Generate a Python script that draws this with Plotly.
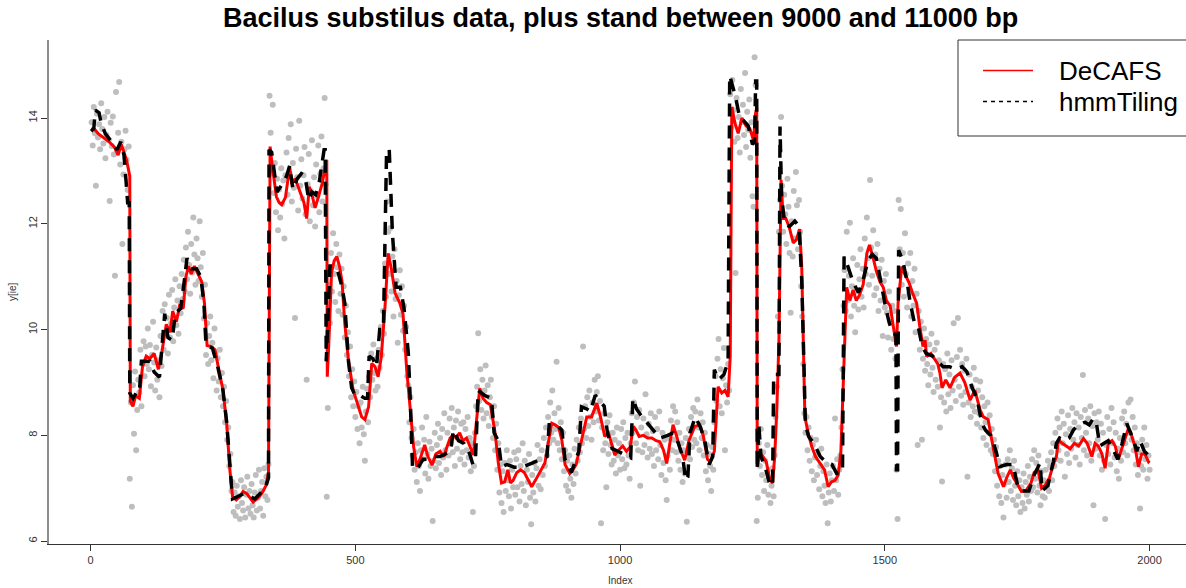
import plotly.graph_objects as go

# ---------------- data ----------------
title_text = "Bacilus substilus data, plus stand between 9000 and 11000 bp"
x_ticks = [0, 500, 1000, 1500, 2000]
y_ticks = [6, 8, 10, 12, 14]

# DeCAFS estimate (index, value)
decafs_idx = [1, 8, 15, 25, 35, 45, 52, 58, 63, 68, 72, 74, 75, 80, 85, 92, 98, 105, 112, 120,
              128, 135, 143, 150, 155, 162, 168, 175, 180, 185, 190, 196, 203, 210, 215, 220, 228, 235, 241, 250,
              257, 263, 268, 275, 282, 288, 295, 301, 307, 314, 320, 326, 331, 336, 339, 343, 351, 356, 361, 368,
              376, 380, 386, 392, 398, 403, 408, 413, 418, 424, 430, 437, 446, 447, 451, 455, 460, 465, 470, 475,
              480, 487, 496, 503, 512, 518, 525, 531, 537, 543, 549, 556, 562, 568, 575, 584, 590, 597, 603, 610,
              616, 622, 631, 637, 645, 652, 660, 667, 673, 679, 685, 690, 697, 703, 710, 716, 723, 728, 735, 741,
              748, 755, 760, 764, 770, 776, 782, 788, 793, 798, 805, 812, 819, 826, 833, 840, 848, 858, 865, 871,
              877, 884, 890, 896, 905, 911, 917, 927, 937, 946, 956, 963, 971, 978, 984, 990, 998, 1005, 1012, 1019,
              1025, 1030, 1036, 1044, 1052, 1060, 1068, 1075, 1082, 1088, 1094, 1100, 1107, 1113, 1122, 1130, 1141, 1150, 1157, 1165,
              1170, 1178, 1185, 1192, 1198, 1204, 1208, 1211, 1217, 1223, 1230, 1238, 1245, 1252, 1256, 1258, 1259, 1264, 1270, 1276,
              1283, 1288, 1292, 1296, 1300, 1304, 1308, 1313, 1319, 1327, 1333, 1339, 1343, 1346, 1349, 1355, 1362, 1369, 1377, 1386,
              1393, 1399, 1406, 1412, 1417, 1421, 1425, 1428, 1434, 1440, 1446, 1452, 1459, 1466, 1471, 1478, 1484, 1491, 1497, 1503,
              1510, 1516, 1522, 1525, 1532, 1538, 1546, 1552, 1560, 1566, 1572, 1576, 1579, 1587, 1594, 1600, 1604, 1608, 1615, 1623,
              1632, 1642, 1651, 1661, 1670, 1680, 1686, 1695, 1702, 1708, 1714, 1724, 1730, 1737, 1743, 1749, 1758, 1767, 1776, 1782,
              1789, 1796, 1802, 1811, 1818, 1824, 1828, 1835, 1842, 1850, 1858, 1866, 1875, 1882, 1891, 1897, 1903, 1910, 1916, 1922,
              1929, 1935, 1941, 1947, 1954, 1960, 1966, 1972, 1979, 1985, 1991, 1998, 2000]
decafs_val = [13.80, 13.78, 13.70, 13.62, 13.55, 13.45, 13.30, 13.50, 13.35, 13.20, 13.00, 12.90, 8.65, 8.55, 8.75, 8.70, 9.30, 9.50, 9.45, 9.55,
              9.25, 9.60, 10.10, 9.95, 10.35, 10.15, 10.45, 10.40, 11.00, 11.20, 11.05, 11.20, 11.05, 10.90, 10.50, 9.70, 9.68, 9.62, 9.30, 8.86,
              8.23, 7.35, 6.85, 6.78, 6.85, 6.94, 6.90, 6.82, 6.74, 6.80, 6.86, 6.95, 7.05, 7.30, 13.46, 13.10, 12.51, 12.40, 12.36, 12.50,
              13.08, 12.75, 12.85, 12.70, 12.55, 12.40, 12.10, 12.70, 12.55, 12.30, 12.50, 12.75, 13.21, 9.11, 10.00, 11.07, 11.30, 11.38, 11.20, 10.90,
              10.12, 9.42, 8.85, 8.61, 8.35, 8.30, 8.54, 9.36, 9.30, 9.11, 9.49, 10.43, 11.44, 11.15, 10.69, 10.50, 10.30, 9.24, 8.54, 7.79,
              7.41, 7.55, 7.82, 7.60, 7.44, 7.65, 7.70, 7.60, 7.78, 7.95, 8.01, 7.95, 8.05, 7.90, 7.95, 7.80, 7.63, 8.20, 8.89, 8.70,
              8.62, 8.58, 8.30, 8.04, 7.48, 7.10, 7.12, 7.35, 7.10, 7.15, 7.30, 7.35, 7.30, 7.15, 7.03, 7.15, 7.30, 7.48, 7.90, 8.23,
              8.20, 8.15, 7.91, 7.45, 7.28, 7.35, 7.45, 7.91, 8.35, 8.35, 8.61, 8.35, 7.98, 8.05, 7.85, 7.63, 7.73, 7.80, 7.70, 7.78,
              8.17, 8.10, 7.98, 8.00, 7.95, 7.95, 7.90, 7.88, 7.72, 7.47, 7.85, 8.20, 7.98, 7.75, 7.53, 7.90, 8.17, 8.20, 8.00, 7.55,
              7.50, 7.70, 8.92, 8.80, 8.85, 8.73, 9.50, 14.21, 13.90, 13.71, 14.00, 13.85, 13.80, 13.58, 14.10, 14.20, 7.41, 7.66, 7.60, 7.50,
              7.16, 7.10, 7.60, 8.50, 9.80, 12.83, 12.10, 12.10, 11.95, 11.64, 11.70, 11.90, 11.20, 9.80, 8.35, 8.05, 7.79, 7.60, 7.48, 7.35,
              7.03, 7.12, 7.15, 7.25, 7.70, 9.00, 9.99, 10.80, 10.55, 10.75, 10.55, 10.65, 10.85, 11.44, 11.60, 11.35, 11.10, 10.90, 10.80, 10.55,
              10.45, 10.06, 9.68, 10.50, 11.19, 11.05, 10.88, 10.70, 10.50, 10.06, 9.68, 9.80, 9.49, 9.55, 9.45, 9.35, 9.18, 8.90, 9.05, 8.90,
              9.10, 9.18, 9.00, 8.67, 8.85, 8.48, 8.35, 8.30, 7.91, 7.60, 7.28, 7.03, 7.20, 7.35, 7.20, 7.10, 6.94, 6.96, 7.10, 7.30,
              7.35, 7.00, 7.05, 7.20, 7.45, 7.60, 7.91, 7.85, 7.80, 7.75, 7.85, 7.80, 7.94, 7.85, 7.60, 7.85, 7.80, 7.65, 7.38, 7.85,
              7.90, 7.80, 7.55, 7.75, 7.95, 8.13, 8.00, 7.80, 7.41, 7.65, 7.65, 7.50, 7.52]

# hmmTiling estimate (index, value)
hmm_idx = [1, 6, 9, 16, 20, 28, 40, 50, 57, 63, 67, 70, 73, 74, 80, 86, 92, 96, 112, 120,
           130, 140, 146, 154, 160, 170, 178, 182, 190, 200, 208, 214, 218, 230, 240, 250, 257, 263, 268, 290,
           300, 310, 320, 330, 336, 337, 342, 347, 352, 362, 370, 376, 382, 390, 398, 405, 412, 418, 425, 432,
           441, 443, 445, 449, 452, 460, 467, 475, 480, 487, 493, 500, 510, 518, 523, 526, 533, 540, 546, 553,
           556, 559, 564, 567, 570, 577, 585, 592, 600, 604, 608, 616, 628, 640, 648, 660, 670, 680, 685, 695,
           705, 716, 722, 727, 732, 745, 757, 762, 770, 776, 786, 800, 815, 830, 835, 850, 862, 866, 880, 890,
           896, 908, 916, 922, 927, 937, 944, 953, 962, 970, 976, 985, 996, 1010, 1020, 1024, 1031, 1038, 1050, 1060,
           1075, 1090, 1100, 1110, 1118, 1124, 1128, 1132, 1142, 1152, 1160, 1168, 1175, 1178, 1186, 1196, 1204, 1207, 1212, 1218,
           1226, 1233, 1242, 1250, 1254, 1256, 1258, 1259, 1262, 1266, 1274, 1282, 1288, 1290, 1300, 1302, 1305, 1311, 1320, 1330,
           1338, 1343, 1346, 1350, 1356, 1366, 1378, 1390, 1400, 1409, 1420, 1423, 1430, 1440, 1450, 1458, 1468, 1476, 1484, 1492,
           1500, 1507, 1514, 1521, 1522, 1524, 1526, 1534, 1542, 1548, 1556, 1563, 1570, 1578, 1590, 1600, 1610, 1622, 1634, 1646,
           1655, 1665, 1674, 1683, 1690, 1700, 1710, 1717, 1730, 1742, 1752, 1760, 1772, 1782, 1793, 1797, 1808, 1818, 1824, 1830,
           1840, 1848, 1856, 1864, 1872, 1878, 1886, 1894, 1900, 1906, 1914, 1922, 1930, 1940, 1948, 1957, 1964, 1970, 1976, 1982,
           1990, 1998, 2000]
hmm_val = [13.75, 13.80, 14.15, 14.10, 13.90, 13.70, 13.55, 13.40, 13.55, 13.30, 12.80, 12.40, 12.40, 8.80, 8.70, 8.80, 8.80, 9.40, 9.40, 9.20,
           9.10, 10.30, 9.85, 9.80, 10.30, 10.40, 11.00, 11.35, 11.15, 11.15, 11.00, 10.50, 9.70, 9.65, 9.30, 8.85, 8.25, 7.40, 6.80, 6.90,
           6.85, 6.80, 6.90, 7.00, 7.20, 13.40, 13.35, 12.90, 12.60, 12.75, 12.90, 13.10, 12.65, 12.85, 12.95, 12.90, 12.45, 12.60, 12.55, 12.80,
           13.40, 13.40, 9.40, 10.40, 11.20, 11.20, 11.10, 10.80, 10.50, 9.40, 8.90, 8.75, 8.75, 8.70, 8.70, 9.50, 9.45, 9.30, 10.00, 10.00,
           11.40, 13.40, 13.40, 12.50, 11.82, 10.80, 10.80, 10.40, 9.56, 8.60, 7.40, 7.35, 7.55, 7.55, 7.60, 7.60, 7.65, 7.70, 8.10, 7.90,
           7.85, 7.65, 7.45, 7.60, 8.85, 8.75, 8.70, 8.05, 7.90, 7.41, 7.45, 7.40, 7.40, 7.45, 7.48, 7.55, 7.60, 8.20, 8.20, 8.10,
           7.55, 7.30, 7.55, 7.70, 8.54, 8.50, 8.45, 8.76, 8.65, 8.55, 8.05, 7.75, 7.70, 7.62, 7.58, 8.70, 8.50, 8.40, 8.25, 8.15,
           7.95, 8.00, 8.05, 7.85, 7.60, 7.15, 7.22, 8.05, 8.35, 8.15, 7.90, 7.45, 7.60, 9.24, 9.05, 9.15, 9.40, 14.80, 14.60, 14.40,
           14.00, 13.95, 13.85, 13.50, 13.55, 14.70, 14.70, 7.35, 8.20, 7.60, 7.40, 7.10, 7.04, 9.15, 9.15, 13.84, 12.50, 12.00, 11.95, 12.05,
           11.95, 10.94, 9.80, 8.20, 7.98, 7.85, 7.60, 7.48, 7.45, 7.28, 7.30, 11.38, 11.20, 10.90, 10.70, 10.90, 11.30, 11.42, 11.35, 10.90,
           10.50, 10.18, 9.94, 9.90, 7.35, 7.35, 11.50, 11.30, 10.90, 10.50, 10.12, 10.06, 9.70, 9.55, 9.50, 9.40, 9.30, 9.30, 9.25, 9.30,
           9.20, 8.90, 8.70, 8.23, 8.10, 8.00, 7.70, 7.41, 7.45, 7.45, 7.00, 6.95, 6.95, 7.25, 7.48, 6.95, 7.05, 7.50, 7.85, 7.95,
           7.90, 7.95, 8.10, 8.19, 8.22, 8.25, 8.20, 8.32, 8.20, 7.80, 7.85, 7.90, 7.75, 7.55, 7.85, 8.22, 8.05, 7.90, 7.70, 7.90,
           7.70, 7.60, 7.60]

# observed data y[ie] (every second index, blocks of 100 indices, first index of block given)
pts_0002 = [13.92, 13.48, 14.21, 13.71, 12.72, 14.08, 13.63, 13.88, 13.41, 14.28, 13.79, 13.52, 14.02, 13.24, 13.68, 14.12, 13.58, 12.43, 13.91, 13.47,
            14.03, 13.31, 11.02, 14.49, 13.37, 13.72, 14.68, 13.12, 13.55, 11.62, 12.93, 13.41, 13.76, 13.21, 12.64, 13.46, 7.18,
            8.62, 6.65, 8.95, 8.03, 9.21, 7.72, 8.48, 9.05, 8.81, 9.62, 8.55, 9.35, 9.78]
pts_0102 = [9.12, 9.68, 9.35, 10.02, 9.25, 9.71, 8.93, 9.52, 10.15, 9.38, 8.85, 9.66, 9.05, 9.42, 8.72, 9.88, 9.31, 10.35, 9.62, 10.48,
            9.95, 10.22, 9.55, 10.66, 9.85, 10.12, 10.75, 9.78, 10.42, 10.95, 10.08, 10.55, 9.92, 10.82, 10.31, 11.05, 10.58, 11.32, 10.72, 11.55,
            10.95, 11.85, 11.22, 10.68, 11.62, 11.08, 12.12, 11.42, 10.85, 11.72]
pts_0202 = [11.35, 10.92, 12.05, 11.18, 10.62, 11.45, 10.21, 10.85, 9.52, 10.12, 9.35, 9.88, 10.25, 9.42, 9.75, 9.08, 10.02, 9.55, 8.85, 9.46,
            9.02, 9.62, 8.72, 9.18, 8.55, 8.92, 8.25, 8.65, 7.92, 8.15, 7.42, 7.65, 6.95, 7.12, 6.55, 6.92, 6.48, 7.05, 6.65, 6.85,
            6.42, 7.15, 6.72, 6.58, 7.02, 6.45, 6.88, 7.22, 6.62, 6.95]
pts_0302 = [6.52, 7.08, 6.68, 6.45, 6.92, 7.25, 6.58, 6.82, 7.35, 6.62, 6.95, 7.12, 6.48, 7.38, 6.85, 7.22, 6.78, 7.45, 14.42, 13.72,
            12.95, 14.25, 12.58, 13.15, 12.22, 12.85, 11.88, 12.65, 12.12, 13.05, 12.38, 12.82, 11.72, 12.92, 13.35, 12.55, 13.62, 12.95, 13.88, 12.42,
            13.15, 12.68, 10.22, 13.42, 12.88, 12.25, 13.95, 12.72, 13.22, 12.48]
pts_0402 = [12.92, 13.45, 12.18, 9.05, 12.75, 13.32, 12.05, 12.62, 13.58, 12.35, 12.88, 11.95, 13.12, 12.52, 13.48, 12.22, 12.95, 13.65, 12.42, 13.05,
            14.38, 12.75, 6.84, 8.52, 10.85, 10.12, 11.45, 10.72, 11.82, 11.05, 10.52, 11.62, 11.18, 10.35, 11.42, 10.68, 11.15, 10.28, 10.82, 9.85,
            10.45, 9.52, 9.95, 9.12, 9.68, 8.72, 9.25, 8.55, 9.02, 8.35]
pts_0502 = [8.82, 8.12, 8.55, 7.85, 8.62, 8.15, 8.92, 8.02, 7.52, 8.45, 8.88, 8.25, 9.12, 8.72, 9.55, 9.05, 9.72, 9.18, 8.85, 9.45,
            8.92, 9.62, 9.28, 10.05, 9.52, 10.35, 9.92, 11.25, 10.62, 12.42, 11.85, 11.05, 11.92, 10.72, 11.38, 10.25, 11.52, 10.58, 10.92, 9.75,
            10.65, 11.12, 10.28, 10.82, 9.98, 10.45, 9.62, 10.05, 9.12, 8.95]
pts_0602 = [8.25, 8.72, 7.95, 7.62, 8.12, 7.35, 7.68, 7.12, 7.85, 7.42, 6.95, 7.72, 8.15, 7.55, 7.92, 7.28, 8.35, 7.65, 7.18, 7.88,
            7.42, 7.75, 6.38, 7.52, 8.05, 7.38, 7.82, 8.22, 7.48, 7.95, 7.25, 8.12, 7.58, 8.42, 7.72, 7.35, 8.05, 7.62, 8.32, 7.85,
            8.52, 7.68, 8.15, 7.42, 8.28, 7.75, 8.45, 7.92, 7.55, 8.22]
pts_0702 = [7.68, 8.25, 7.45, 8.12, 7.72, 8.35, 7.58, 7.95, 7.32, 7.85, 6.55, 7.42, 8.05, 8.55, 8.92, 9.93, 8.65, 9.25, 8.48, 9.05,
            8.32, 8.85, 9.32, 8.42, 8.95, 8.18, 8.72, 9.05, 8.35, 7.95, 8.55, 7.72, 8.22, 7.35, 7.85, 6.92, 7.45, 6.72, 7.32, 6.55,
            7.48, 6.95, 7.72, 7.15, 6.85, 7.52, 6.62, 7.35, 7.02, 7.68]
pts_0802 = [6.88, 7.55, 7.02, 7.72, 6.75, 7.42, 7.08, 7.85, 6.95, 7.52, 6.68, 7.35, 7.12, 7.65, 6.82, 6.32, 7.25, 6.92, 7.48, 6.75,
            7.38, 7.82, 7.05, 7.55, 6.98, 7.72, 7.25, 7.95, 7.42, 8.15, 7.62, 8.35, 7.85, 8.62, 8.05, 8.85, 7.92, 8.42, 8.12, 9.39,
            7.85, 8.52, 7.72, 8.25, 7.55, 8.05, 7.32, 7.72, 7.05, 7.52]
pts_0902 = [6.95, 7.62, 7.18, 6.82, 7.45, 7.08, 7.75, 7.28, 7.92, 7.52, 8.15, 7.68, 8.32, 7.85, 9.68, 8.12, 8.55, 7.95, 8.72, 8.18,
            8.85, 8.35, 7.92, 8.62, 8.25, 9.05, 8.45, 8.82, 9.12, 8.28, 8.65, 6.34, 8.15, 7.72, 8.42, 7.85, 7.02, 8.25, 7.65, 8.38,
            7.82, 7.45, 8.05, 7.52, 7.92, 7.28, 8.15, 7.62, 7.85, 7.35]
pts_1002 = [8.12, 7.55, 8.25, 7.38, 7.95, 7.45, 8.05, 7.62, 7.18, 7.85, 8.42, 8.05, 8.62, 9.02, 7.85, 8.35, 7.72, 8.48, 7.05, 8.15,
            7.68, 8.32, 7.82, 8.78, 8.02, 7.58, 8.22, 7.75, 8.42, 7.65, 8.08, 7.42, 8.35, 7.72, 8.12, 7.55, 8.45, 7.82, 7.25, 8.05,
            7.48, 7.92, 7.15, 6.78, 7.62, 7.95, 7.35, 8.28, 7.72, 8.55]
pts_1102 = [7.92, 8.45, 7.68, 8.25, 7.52, 8.05, 7.35, 7.85, 7.12, 7.72, 7.28, 7.95, 6.37, 7.65, 8.12, 7.55, 8.35, 7.78, 8.52, 7.92,
            8.45, 7.85, 8.68, 8.15, 7.72, 8.42, 7.95, 8.25, 7.62, 8.05, 7.32, 7.82, 7.15, 7.65, 7.42, 6.95, 7.78, 7.35, 8.25, 9.12,
            8.65, 9.45, 9.82, 8.55, 9.25, 8.42, 9.08, 9.65, 7.72, 8.95]
pts_1202 = [8.62, 9.35, 8.85, 14.45, 13.82, 14.72, 14.15, 13.55, 11.07, 14.38, 13.62, 14.02, 13.35, 14.55, 13.92, 14.25, 13.68, 14.85, 13.45, 14.12,
            13.78, 14.35, 13.25, 13.92, 12.52, 12.32, 15.15, 14.62, 6.38, 6.82, 7.85, 7.42, 8.12, 7.25, 7.68, 6.95, 7.52, 7.15, 7.82, 6.88,
            7.35, 6.72, 7.05, 7.38, 6.85, 7.62, 8.35, 8.92, 10.25, 11.85]
pts_1302 = [12.45, 14.02, 12.72, 11.85, 12.55, 12.18, 11.62, 12.85, 12.32, 11.45, 10.32, 12.05, 11.38, 12.62, 11.72, 12.98, 12.35, 11.52, 12.45, 11.85,
            10.82, 10.25, 9.35, 8.42, 8.05, 8.35, 7.72, 8.15, 7.52, 7.95, 7.32, 7.82, 7.15, 7.58, 7.92, 7.25, 7.65, 6.98, 7.42, 7.75,
            6.85, 7.32, 7.05, 6.72, 7.45, 6.34, 6.92, 7.28, 6.75, 7.15]
pts_1402 = [7.42, 6.95, 8.32, 7.15, 7.55, 6.88, 7.35, 7.62, 8.15, 9.25, 10.45, 11.12, 10.35, 11.85, 10.55, 11.02, 12.02, 10.25, 10.82, 11.35,
            10.45, 9.95, 10.72, 11.22, 10.38, 10.95, 11.52, 10.62, 11.15, 10.42, 11.72, 11.05, 12.12, 11.35, 10.85, 12.83, 11.55, 11.02, 11.88, 10.65,
            11.42, 10.78, 11.62, 10.35, 11.15, 10.55, 11.32, 9.88, 10.92, 10.42]
pts_1502 = [11.05, 10.32, 9.85, 10.72, 10.15, 9.62, 10.45, 9.82, 10.35, 9.45, 7.35, 6.42, 12.45, 11.52, 12.28, 10.85, 11.45, 10.62, 11.82, 11.05,
            10.42, 11.25, 10.68, 11.45, 10.25, 10.92, 10.45, 11.15, 9.95, 10.68, 7.82, 10.35, 9.62, 10.15, 7.92, 9.45, 10.02, 9.22, 9.82, 9.35,
            8.95, 9.72, 9.15, 9.92, 9.28, 8.82, 9.62, 9.05, 9.75, 8.92]
pts_1602 = [9.42, 8.15, 8.72, 7.13, 9.35, 8.62, 9.25, 8.45, 9.55, 8.78, 9.15, 8.52, 9.42, 8.85, 10.12, 9.05, 8.65, 9.48, 10.22, 8.92,
            9.62, 8.75, 9.35, 8.58, 9.22, 8.82, 9.45, 7.22, 8.62, 9.15, 8.35, 8.92, 8.55, 9.28, 8.45, 9.05, 8.22, 8.85, 8.42, 9.02,
            8.15, 8.72, 7.95, 8.55, 8.25, 7.82, 8.62, 8.05, 8.38, 7.72]
pts_1702 = [8.12, 7.65, 7.92, 7.32, 7.78, 7.05, 7.52, 6.85, 7.42, 6.72, 7.25, 6.45, 7.08, 7.45, 6.82, 7.55, 7.12, 7.72, 6.95, 7.38,
            6.78, 7.52, 7.05, 6.68, 7.32, 6.85, 7.15, 6.55, 7.02, 6.72, 7.28, 6.62, 7.12, 6.88, 7.42, 6.75, 7.22, 6.95, 7.55, 7.02,
            7.72, 7.18, 7.48, 6.92, 7.62, 7.05, 6.68, 7.32, 6.85, 7.15]
pts_1802 = [6.82, 7.35, 7.02, 7.52, 6.95, 7.42, 7.68, 7.15, 7.85, 7.42, 8.05, 7.55, 8.32, 7.72, 8.15, 7.52, 8.45, 7.85, 8.22, 7.22,
            8.02, 7.65, 8.38, 7.48, 8.12, 7.75, 8.52, 7.92, 8.25, 7.58, 8.42, 7.82, 8.15, 7.45, 8.35, 7.95, 9.14, 7.72, 8.48, 8.05,
            7.62, 8.32, 7.85, 8.55, 7.52, 8.18, 6.68, 8.42, 7.75, 8.25]
pts_1902 = [7.92, 8.45, 7.62, 8.22, 7.35, 8.05, 7.52, 6.42, 7.82, 8.35, 7.65, 8.12, 7.45, 8.52, 7.85, 8.25, 7.58, 8.05, 7.32, 7.75,
            7.18, 7.95, 7.52, 8.32, 7.68, 8.45, 7.85, 8.22, 7.62, 8.62, 8.05, 8.68, 7.92, 8.35, 7.72, 8.15, 7.45, 7.85, 7.25, 7.68,
            6.62, 7.42, 7.92, 7.35, 8.15, 7.55, 7.82, 7.18, 7.62, 7.35]

point_blocks = [(2, pts_0002), (102, pts_0102), (202, pts_0202), (302, pts_0302), (402, pts_0402),
                (502, pts_0502), (602, pts_0602), (702, pts_0702), (802, pts_0802), (902, pts_0902),
                (1002, pts_1002), (1102, pts_1102), (1202, pts_1202), (1302, pts_1302), (1402, pts_1402),
                (1502, pts_1502), (1602, pts_1602), (1702, pts_1702), (1802, pts_1802), (1902, pts_1902)]

pt_x, pt_y = [], []
for start, block in point_blocks:
    for j, v in enumerate(block):
        pt_x.append(start + 2 * j)
        pt_y.append(v)

# ---------------- layout geometry (pixels of the 1186x588 page) ----------------
W, H = 1186, 588
L, R, T, B = 49, 1186, 40, 544


def px(x):
    return (x - L) / (R - L)


def py(y):
    return (B - y) / (B - T)


FONT = "Liberation Sans, Arial, Helvetica, sans-serif"

fig = go.Figure()
fig.add_trace(go.Scatter(x=pt_x, y=pt_y, mode="markers",
                         marker=dict(color="#bebebe", size=6, line=dict(width=0)),
                         showlegend=False, hoverinfo="skip"))
fig.add_trace(go.Scatter(x=decafs_idx, y=decafs_val, mode="lines",
                         line=dict(color="#ff0000", width=3), showlegend=False))
fig.add_trace(go.Scatter(x=hmm_idx, y=hmm_val, mode="lines",
                         line=dict(color="#000000", width=3.5, dash="13px,9px"), showlegend=False))

shapes = [
    # legend box
    dict(type="rect", xref="paper", yref="paper", x0=px(958), x1=px(1200), y0=py(136), y1=py(40),
         line=dict(color="#333333", width=1), fillcolor="rgba(255,255,255,1)", layer="above"),
    dict(type="line", xref="paper", yref="paper", x0=px(983), x1=px(1033), y0=py(70.5), y1=py(70.5),
         line=dict(color="#ff0000", width=1.5), layer="above"),
    dict(type="line", xref="paper", yref="paper", x0=px(983), x1=px(1033), y0=py(101.5), y1=py(101.5),
         line=dict(color="#000000", width=1.5, dash="4px,4px"), layer="above"),
]

annotations = [
    dict(text="<b>" + title_text + "</b>", xref="paper", yref="paper", x=px(620), y=py(18),
         xanchor="center", yanchor="middle", showarrow=False,
         font=dict(family=FONT, size=27, color="#000000")),
    dict(text="DeCAFS", xref="paper", yref="paper", x=px(1057), y=py(71), xanchor="left", yanchor="middle",
         showarrow=False, font=dict(family=FONT, size=26, color="#000000")),
    dict(text="hmmTiling", xref="paper", yref="paper", x=px(1057), y=py(102), xanchor="left", yanchor="middle",
         showarrow=False, font=dict(family=FONT, size=26, color="#000000")),
    dict(text="Index", xref="paper", yref="paper", x=px(620), y=py(580), xanchor="center", yanchor="middle",
         showarrow=False, font=dict(family=FONT, size=10, color="#333333")),
    dict(text="y[ie]", xref="paper", yref="paper", x=px(12), y=py(292), xanchor="center", yanchor="middle",
         textangle=-90, showarrow=False, font=dict(family=FONT, size=10, color="#333333")),
]

fig.update_layout(
    width=W, height=H,
    margin=dict(l=L, r=W - R, t=T, b=H - B, pad=0),
    plot_bgcolor="white", paper_bgcolor="white",
    font=dict(family=FONT, size=11, color="#333333"),
    shapes=shapes, annotations=annotations,
    xaxis=dict(range=[(L - 90.6) / 0.5295, (R - 90.6) / 0.5295], tickvals=x_ticks,
               ticktext=[str(v) for v in x_ticks],
               showgrid=False, zeroline=False, showline=True, linecolor="#333333", linewidth=1.2,
               ticks="outside", ticklen=6, tickcolor="#333333", tickwidth=1,
               tickfont=dict(family=FONT, size=11, color="#333333")),
    yaxis=dict(range=[14 - (B - 118) / 52.9, 14 + (118 - T) / 52.9], tickvals=y_ticks,
               ticktext=[str(v) for v in y_ticks], tickangle=-90,
               showgrid=False, zeroline=False, showline=True, linecolor="#8c8c8c", linewidth=2,
               ticks="outside", ticklen=6, tickcolor="#333333", tickwidth=1,
               tickfont=dict(family=FONT, size=11, color="#333333")),
)

fig.write_html("out.html")
